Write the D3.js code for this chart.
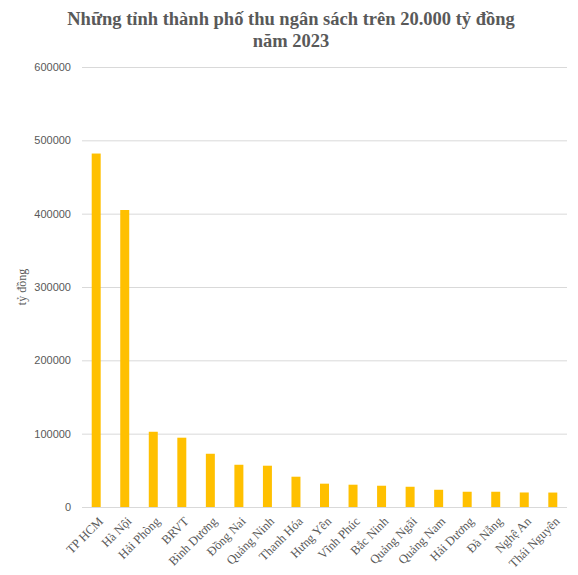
<!DOCTYPE html>
<html><head><meta charset="utf-8">
<script src="https://cdn.jsdelivr.net/npm/d3@7"></script>
<style>body{margin:0;background:#fff}</style>
</head><body>
<svg id="c" width="578" height="575"></svg>
<script>
const categories = ["TP HCM","Hà Nội","Hải Phòng","BRVT","Bình Dương","Đồng Nai","Quảng Ninh","Thanh Hóa","Hưng Yên","Vĩnh Phúc","Bắc Ninh","Quảng Ngãi","Quảng Nam","Hải Dương","Đà Nẵng","Nghệ An","Thái Nguyên"];
const values = [482000,405000,102600,94500,72600,57600,56300,41300,31800,30400,29000,27600,23500,20800,20800,19800,19700];
const yTicks = [0,100000,200000,300000,400000,500000,600000];
const titleLines = ["Những tỉnh thành phố thu ngân sách trên 20.000 tỷ đồng","năm 2023"];
const yTitle = "tỷ đồng";

const svg = d3.select("#c");
const m = {l:82, r:11, t:67, b:68};
const W = 578, H = 575;
const x = d3.scaleBand().domain(categories).range([m.l, W-m.r]).paddingInner(0.685).paddingOuter(0.34);
const y = d3.scaleLinear().domain([0,600000]).range([H-m.b, m.t]);

// gridlines
svg.append("g").selectAll("line").data(yTicks).join("line")
  .attr("x1", m.l).attr("x2", W-m.r)
  .attr("y1", d=>y(d)+0.5).attr("y2", d=>y(d)+0.5)
  .attr("stroke", "#d9d9d9").attr("stroke-width", 1);

// y labels
svg.append("g").selectAll("text").data(yTicks).join("text")
  .attr("x", 71).attr("y", d=>y(d)).attr("dy","0.35em")
  .attr("text-anchor","end")
  .attr("font-family","'Liberation Sans', Arial, sans-serif").attr("font-size",11)
  .attr("fill","#595959").text(d=>d);

// bars
svg.append("g").selectAll("rect").data(values).join("rect")
  .attr("x", (d,i)=>x(categories[i])).attr("width", x.bandwidth())
  .attr("y", d=>y(d)).attr("height", d=>y(0)-y(d))
  .attr("fill","#FFC000");

// x labels
svg.append("g").selectAll("text").data(categories).join("text")
  .attr("transform", d=>`translate(${x(d)+x.bandwidth()/2+4.5},${y(0)+12}) rotate(-45)`)
  .attr("text-anchor","end").attr("dy","0.35em")
  .attr("font-family","'Liberation Serif', 'Times New Roman', serif").attr("font-size",12.5)
  .attr("fill","#595959").text(d=>d);

// title
svg.append("g").selectAll("text").data(titleLines).join("text")
  .attr("x", 291).attr("y",(d,i)=>25+i*22)
  .attr("text-anchor","middle")
  .attr("font-family","'Liberation Serif', 'Times New Roman', serif").attr("font-weight","bold")
  .attr("font-size",18.5).attr("fill","#595959").text(d=>d);

// y title
svg.append("text")
  .attr("transform", `translate(26,${(y(0)+y(600000))/2}) rotate(-90)`)
  .attr("text-anchor","middle")
  .attr("font-family","'Liberation Serif', 'Times New Roman', serif").attr("font-size",12)
  .attr("fill","#595959").text(yTitle);
</script>
</body></html>
